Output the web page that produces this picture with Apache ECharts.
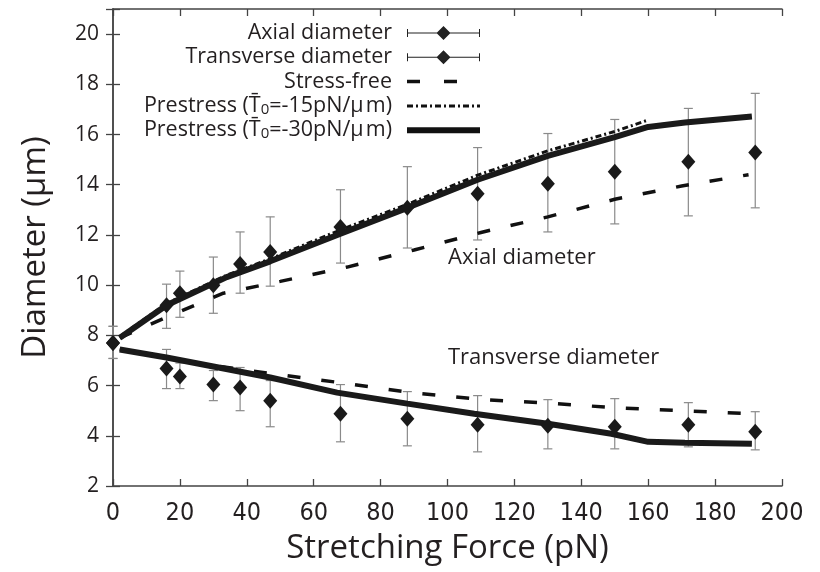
<!DOCTYPE html>
<html>
<head>
<meta charset="utf-8">
<script src="https://cdn.jsdelivr.net/npm/echarts@6/dist/echarts.min.js"></script>
<style>html,body{margin:0;padding:0;background:#fff}#c{width:820px;height:572px}</style>
</head>
<body>
<div id="c"></div>
<script>
// ---- measured data ----
const axialX  = [0, 16, 20, 30, 38, 47, 68, 88, 109, 130, 150, 172, 192];
const axialY  = [7.7, 9.2, 9.68, 10.0, 10.84, 11.32, 12.32, 13.08, 13.64, 14.04, 14.52, 14.92, 15.28];
const axialHi = [8.36, 10.04, 10.56, 11.12, 12.12, 12.72, 13.8, 14.72, 15.48, 16.04, 16.6, 17.04, 17.64];
const axialLo = [7.08, 8.28, 8.72, 8.88, 9.68, 9.96, 10.88, 11.48, 11.8, 12.12, 12.44, 12.76, 13.08];

const transX  = [0, 16, 20, 30, 38, 47, 68, 88, 109, 130, 150, 172, 192];
const transY  = [7.7, 6.68, 6.36, 6.04, 5.92, 5.4, 4.88, 4.68, 4.44, 4.4, 4.36, 4.44, 4.16];
const transHi = [8.36, 7.44, 6.9, 6.6, 6.72, 6.2, 6.04, 5.76, 5.6, 5.44, 5.48, 5.32, 4.96];
const transLo = [7.08, 5.88, 5.88, 5.4, 5.0, 4.36, 3.76, 3.6, 3.36, 3.48, 3.48, 3.56, 3.44];

const freeAxX = [2, 16, 33, 50, 70, 90, 110, 130, 150, 170, 190];
const freeAxY = [7.9, 8.72, 9.68, 10.15, 10.72, 11.4, 12.1, 12.72, 13.42, 13.95, 14.4];
const freeTrX = [2, 16, 30, 47, 70, 89, 110, 130, 150, 170, 191];
const freeTrY = [7.45, 7.12, 6.8, 6.48, 6.08, 5.72, 5.45, 5.3, 5.12, 5.0, 4.88];

const pre15X  = [2, 16, 34, 47, 68, 88, 109, 130, 150, 160];
const pre15Y  = [7.95, 9.27, 10.4, 11.05, 12.2, 13.22, 14.38, 15.35, 16.12, 16.58];

const pre30AxX = [2, 16, 34, 47, 68, 88, 109, 130, 150, 160, 171, 191];
const pre30AxY = [7.9, 9.2, 10.32, 10.95, 12.05, 13.08, 14.2, 15.15, 15.9, 16.3, 16.48, 16.72];
const pre30TrX = [2, 16, 30, 47, 67, 88, 108, 130, 149, 160, 171, 191];
const pre30TrY = [7.44, 7.12, 6.76, 6.32, 5.72, 5.28, 4.88, 4.48, 4.08, 3.76, 3.72, 3.68];

const xTicks = {min: 0, max: 200, interval: 20};
const yTicks = {min: 2, max: 21, interval: 2};

// ---- helpers ----
const zip = (xs, ys) => xs.map((x, i) => [x, ys[i]]);
const zip3 = (xs, a, b) => xs.map((x, i) => [x, a[i], b[i]]);

const TXT = '#231f20';
const errIcon = 'path://M0,6.5H73V7.5H0Z M0,3H1V11H0Z M72,3H73V11H72Z M36.5,0L43.5,7L36.5,14L29.5,7Z';
const noSym = {color: 'rgba(0,0,0,0)', borderColor: 'rgba(0,0,0,0)', borderWidth: 0, opacity: 0};

function renderErr(params, api) {
  const x = api.value(0), lo = api.value(1), hi = api.value(2);
  const a = api.coord([x, lo]), b = api.coord([x, hi]);
  const c = 4.5;
  const st = {stroke: '#8a8a8a', lineWidth: 1.2};
  return {type: 'group', children: [
    {type: 'line', shape: {x1: a[0], y1: a[1], x2: b[0], y2: b[1]}, style: st},
    {type: 'line', shape: {x1: a[0] - c, y1: a[1], x2: a[0] + c, y2: a[1]}, style: st},
    {type: 'line', shape: {x1: b[0] - c, y1: b[1], x2: b[0] + c, y2: b[1]}, style: st}
  ]};
}

const axisLineStyle = {color: '#444', width: 1.5};
const tickStyle = {inside: true, length: 7, lineStyle: {color: '#444', width: 1.3}};

const chart = echarts.init(document.getElementById('c'), null, {renderer: 'canvas'});
const option = {
  animation: false,
  backgroundColor: '#fff',
  grid: {left: 113, right: 38, top: 9, bottom: 86},
  legend: {
    orient: 'vertical',
    align: 'right',
    right: 337,
    top: 22,
    padding: 0,
    itemWidth: 73,
    itemHeight: 14,
    itemGap: 2.3,
    selectedMode: false,
    textStyle: {
      fontFamily: 'Open Sans', fontSize: 21.5, color: TXT, lineHeight: 22, padding: [0, 10, 0, 0],
      rich: {
        s: {fontFamily: 'Open Sans', fontSize: 15, color: TXT, verticalAlign: 'bottom', padding: [9, 0, 0, 0]}
      }
    },
    formatter: function (name) {
      if (name === 'p15') return 'Prestress (T\u0304{s|0}=-15pN/\u03bc\u200am)';
      if (name === 'p30') return 'Prestress (T\u0304{s|0}=-30pN/\u03bc\u200am)';
      return name;
    },
    data: [
      {name: 'Axial diameter', icon: errIcon, itemStyle: {color: '#222'}},
      {name: 'Transverse diameter', icon: errIcon, itemStyle: {color: '#222'}},
      {name: 'Stress-free', itemStyle: noSym, lineStyle: {color: '#111', width: 3.5, type: [13, 24]}},
      {name: 'p15', itemStyle: noSym, lineStyle: {color: '#111', width: 3, type: [6, 3, 2, 3]}},
      {name: 'p30', itemStyle: noSym, lineStyle: {color: '#111', width: 6, type: 'solid'}}
    ]
  },
  xAxis: [{
    type: 'value', min: xTicks.min, max: xTicks.max, interval: xTicks.interval,
    position: 'bottom',
    name: 'Stretching Force (pN)', nameLocation: 'middle', nameGap: 46,
    nameTextStyle: {fontFamily: 'Open Sans', fontSize: 33, color: TXT},
    axisLine: {lineStyle: axisLineStyle}, axisTick: tickStyle,
    axisLabel: {fontFamily: 'Liberation Sans Narrow, DejaVu Sans Condensed, sans-serif', fontSize: 25, color: TXT, margin: 15},
    splitLine: {show: false}
  }, {
    type: 'value', min: xTicks.min, max: xTicks.max, interval: xTicks.interval,
    position: 'top',
    axisLine: {lineStyle: axisLineStyle}, axisTick: tickStyle,
    axisLabel: {show: false}, splitLine: {show: false}
  }],
  yAxis: [{
    type: 'value', min: yTicks.min, max: yTicks.max, interval: yTicks.interval,
    position: 'left',
    name: 'Diameter (\u03bcm)', nameLocation: 'middle', nameGap: 61,
    nameTextStyle: {fontFamily: 'Open Sans', fontSize: 33, color: TXT},
    axisLine: {lineStyle: axisLineStyle}, axisTick: tickStyle,
    axisLabel: {fontFamily: 'Open Sans', fontSize: 21, color: TXT, margin: 14,
      formatter: v => (v % 2 === 0 ? String(v) : '')},
    splitLine: {show: false}
  }, {
    type: 'value', min: yTicks.min, max: yTicks.max, interval: yTicks.interval,
    position: 'right',
    axisLine: {lineStyle: axisLineStyle}, axisTick: tickStyle,
    axisLabel: {show: false}, splitLine: {show: false}
  }],
  series: [
    {type: 'custom', name: 'errA', renderItem: renderErr, encode: {x: 0, y: [1, 2]},
      data: zip3(axialX, axialLo, axialHi), z: 1, silent: true},
    {type: 'custom', name: 'errT', renderItem: renderErr, encode: {x: 0, y: [1, 2]},
      data: zip3(transX, transLo, transHi), z: 1, silent: true},
    {type: 'line', name: 'Stress-free', data: zip(freeAxX, freeAxY), symbol: 'none', z: 2,
      itemStyle: {color: '#111'}, lineStyle: {color: '#111', width: 3.5, type: [13, 21]}},
    {type: 'line', name: 'Stress-free', data: zip(freeTrX, freeTrY), symbol: 'none', z: 2,
      itemStyle: {color: '#111'}, lineStyle: {color: '#111', width: 3.5, type: [13, 21]}},
    {type: 'line', name: 'p15', data: zip(pre15X, pre15Y), symbol: 'none', z: 2,
      itemStyle: {color: '#111'}, lineStyle: {color: '#111', width: 3, type: [6, 3, 2, 3]}},
    {type: 'line', name: 'p30', data: zip(pre30AxX, pre30AxY), symbol: 'none', z: 3,
      itemStyle: {color: '#1a1a1a'}, lineStyle: {color: '#1a1a1a', width: 6}},
    {type: 'line', name: 'p30', data: zip(pre30TrX, pre30TrY), symbol: 'none', z: 3,
      itemStyle: {color: '#1a1a1a'}, lineStyle: {color: '#1a1a1a', width: 6}},
    {type: 'scatter', name: 'Axial diameter', data: zip(axialX, axialY), symbol: 'diamond',
      symbolSize: [14, 16], itemStyle: {color: '#1a1a1a', opacity: 1}, z: 4},
    {type: 'scatter', name: 'Transverse diameter', data: zip(transX, transY), symbol: 'diamond',
      symbolSize: [14, 16], itemStyle: {color: '#1a1a1a', opacity: 1}, z: 4}
  ],
  graphic: [
    {type: 'text', left: 448, top: 247, style: {text: 'Axial diameter', font: '22px "Open Sans"', fill: TXT}},
    {type: 'text', left: 448, top: 347, style: {text: 'Transverse diameter', font: '22px "Open Sans"', fill: TXT}}
  ]
};
chart.setOption(option);
</script>
</body>
</html>
